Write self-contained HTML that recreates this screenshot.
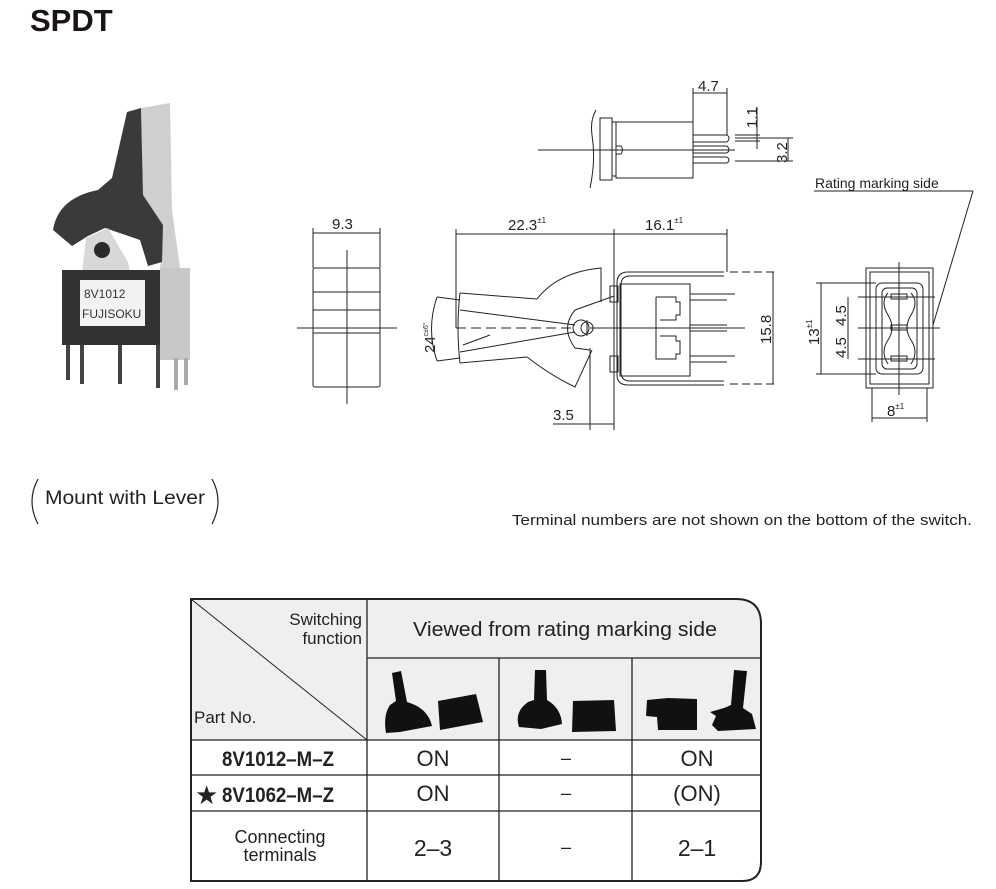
<!DOCTYPE html>
<html><head><meta charset="utf-8"><style>
html,body{margin:0;padding:0;background:#fff;}
svg{display:block;font-family:"Liberation Sans",Arial,sans-serif;}
</style></head><body>
<svg width="996" height="889" viewBox="0 0 996 889" xmlns="http://www.w3.org/2000/svg">
<rect width="996" height="889" fill="#fff"/>
<text x="30" y="31" font-size="31" font-weight="bold" fill="#1a1414">SPDT</text>

<!-- Photo -->
<g>
<path d="M141,108 L170,103 L172,210 L180,268 L160,270 L163,225 L143,195 Z" fill="#cfcfcf"/>
<path d="M127,112 L141,108 L143,195 L163,225 L162,262 L148,266 L140,240 L105,228 L88,236 L72,246 L53,230 Q58,198 98,190 L112,178 Z" fill="#3a3a3a"/>
<path d="M86,238 L108,228 L128,262 L130,272 L82,272 Z" fill="#d8d8d8"/>
<circle cx="102" cy="250" r="8" fill="#2a2a2a"/>
<rect x="62" y="270" width="100" height="75" fill="#333"/>
<rect x="160" y="268" width="30" height="92" fill="#c8c8c8"/>
<rect x="80" y="280" width="65" height="46" fill="#f2f2f2"/>
<text x="84" y="298" font-size="12" fill="#333">8V1012</text>
<text x="82" y="318" font-size="12" fill="#333">FUJISOKU</text>
<g stroke="#444" stroke-width="4"><line x1="68" y1="345" x2="68" y2="380"/><line x1="82" y1="345" x2="82" y2="384"/><line x1="120" y1="345" x2="120" y2="384"/><line x1="158" y1="345" x2="158" y2="388"/></g>
<g stroke="#aaa" stroke-width="4"><line x1="176" y1="358" x2="176" y2="390"/><line x1="186" y1="358" x2="186" y2="385"/></g>
</g>

<g fill="none" stroke="#222" stroke-width="1">
<!-- front view 9.3 -->
<rect x="313" y="268" width="67" height="119" rx="2"/>
<line x1="313" y1="292" x2="380" y2="292"/><line x1="313" y1="310" x2="380" y2="310"/><line x1="313" y1="333" x2="380" y2="333"/>
<line x1="347" y1="250" x2="347" y2="404"/><line x1="297" y1="328" x2="397" y2="328"/>
<line x1="313" y1="228" x2="313" y2="268"/><line x1="380" y1="228" x2="380" y2="268"/>
<line x1="313" y1="233" x2="380" y2="233"/>

<!-- top view -->
<path d="M596,110 Q590,120 592,135 Q596,160 590,188"/>
<rect x="600" y="118" width="12" height="62"/>
<rect x="612" y="122" width="4" height="54"/>
<rect x="616" y="122" width="77" height="56"/>
<path d="M616,146 L621,146 Q624,150 621,154 L616,154"/>
<line x1="538" y1="150" x2="735" y2="150"/>
<path d="M693,135 L727,135 M693,142 L727,142 M693,146 L727,146 M693,153 L727,153 M693,157 L727,157 M693,163 L727,163"/>
<path d="M727,135 Q731,138 727,142 M727,146 Q731,150 727,153 M727,157 Q731,160 727,163"/>
<line x1="693" y1="88" x2="693" y2="122"/><line x1="727" y1="88" x2="727" y2="135"/>
<line x1="693" y1="93" x2="727" y2="93"/>
<line x1="735" y1="135" x2="760" y2="135"/><line x1="735" y1="141" x2="760" y2="141"/>
<line x1="757" y1="107" x2="757" y2="149"/>
<line x1="735" y1="138" x2="793" y2="138"/><line x1="735" y1="161" x2="793" y2="161"/>
<line x1="788" y1="138" x2="788" y2="161"/>

<!-- side view dims -->
<line x1="456" y1="229" x2="456" y2="328"/><line x1="614" y1="229" x2="614" y2="430"/><line x1="727" y1="229" x2="727" y2="272"/>
<line x1="456" y1="234" x2="727" y2="234"/>
<line x1="590" y1="348" x2="590" y2="430"/>
<line x1="553" y1="424" x2="614" y2="424"/>
<line x1="730" y1="272" x2="778" y2="272" stroke-dasharray="8,4"/><line x1="730" y1="384" x2="778" y2="384" stroke-dasharray="8,4"/>
<line x1="773" y1="272" x2="773" y2="384"/>
<line x1="590" y1="328" x2="745" y2="328"/>
<line x1="456" y1="328" x2="575" y2="328" stroke-dasharray="10,5"/>
<path d="M437,297 Q426,329 437,361"/>
<line x1="437" y1="297" x2="460" y2="300"/><line x1="437" y1="361" x2="460" y2="358"/>

<!-- lever -->
<path d="M460,293 L537,299 Q558,272 601,268 L601,302"/>
<path d="M460,293 Q456,328 460,363 L527,357"/>
<path d="M527,357 Q550,375 575,387 L592,350"/>
<line x1="460" y1="310" x2="575" y2="325"/><line x1="460" y1="352" x2="575" y2="332"/>
<line x1="463" y1="345" x2="490" y2="335"/>
<path d="M575,310 Q560,328 575,348 L590,350"/>
<path d="M575,310 L614,296"/>
<circle cx="581" cy="328" r="8"/><circle cx="587" cy="328" r="6"/>
<line x1="587" y1="320" x2="587" y2="336"/>
<!-- body -->
<path d="M724,272 L628,272 Q617,272 617,283 L617,375 Q617,385 628,385 L724,385"/>
<path d="M724,276 L630,276 Q621,276 621,285 L621,372 Q621,381 630,381 L724,381"/>
<rect x="610" y="286" width="8" height="16"/><rect x="610" y="356" width="8" height="16"/>
<rect x="620" y="284" width="70" height="92"/>
<path d="M656,297 L676,297 L676,302 L680,302 L680,315 L676,315 L676,320 L660,320 M660,336 L676,336 L676,341 L680,341 L680,354 L676,354 L676,359 L656,359 L656,297"/>
<line x1="690" y1="294" x2="735" y2="294"/><line x1="690" y1="300" x2="727" y2="300"/>
<line x1="690" y1="325" x2="727" y2="325"/><line x1="690" y1="331" x2="727" y2="331"/>
<line x1="690" y1="356" x2="735" y2="356"/><line x1="690" y1="362" x2="727" y2="362"/>

<!-- right view -->
<rect x="866" y="268" width="67" height="120"/>
<rect x="870" y="272" width="59" height="112"/>
<rect x="876" y="283" width="47" height="91" rx="6"/>
<rect x="882" y="288" width="35" height="81" rx="5"/>
<path d="M888,293 Q880,302 888,315 Q896,328 888,340 Q880,352 888,364"/>
<path d="M911,293 Q919,302 911,315 Q903,328 911,340 Q919,352 911,364"/>
<rect x="891" y="294" width="16" height="5"/><rect x="891" y="325" width="16" height="5"/><rect x="891" y="356" width="16" height="5"/>
<line x1="899" y1="262" x2="899" y2="395"/>
<line x1="858" y1="297" x2="935" y2="297"/><line x1="858" y1="328" x2="940" y2="328"/><line x1="858" y1="359" x2="935" y2="359"/>
<line x1="816" y1="283" x2="876" y2="283"/><line x1="816" y1="374" x2="876" y2="374"/>
<line x1="821" y1="283" x2="821" y2="374"/>
<line x1="848" y1="297" x2="848" y2="359"/>
<line x1="872" y1="388" x2="872" y2="422"/><line x1="927" y1="388" x2="927" y2="422"/>
<line x1="872" y1="418" x2="927" y2="418"/>
<line x1="814" y1="191" x2="973" y2="191"/><line x1="973" y1="191" x2="933" y2="325"/>
</g>

<g font-size="15" fill="#222">
<text x="332" y="229">9.3</text>
<text x="508" y="230">22.3<tspan font-size="8" dy="-7">±1</tspan></text>
<text x="645" y="230">16.1<tspan font-size="8" dy="-7">±1</tspan></text>
<text x="698" y="91">4.7</text>
<text x="553" y="420">3.5</text>
<text x="815" y="188" font-size="14">Rating marking side</text>
<text x="887" y="416">8<tspan font-size="8" dy="-7">±1</tspan></text>
<text transform="translate(757,128) rotate(-90)">1.1</text>
<text transform="translate(787,163) rotate(-90)">3.2</text>
<text transform="translate(771,344) rotate(-90)">15.8</text>
<text transform="translate(435,353) rotate(-90)">24<tspan font-size="7" dy="-7">c±6°</tspan></text>
<text transform="translate(819,345) rotate(-90)">13<tspan font-size="8" dy="-7">±1</tspan></text>
<text transform="translate(846,326) rotate(-90)">4.5</text>
<text transform="translate(846,358) rotate(-90)">4.5</text>
</g>

<!-- mount with lever -->
<text x="45" y="504" font-size="19" fill="#222" textLength="160" lengthAdjust="spacingAndGlyphs">Mount with Lever</text>
<path d="M38,479 Q26,501 38,524" fill="none" stroke="#222" stroke-width="1.2"/>
<path d="M212,479 Q224,501 212,524" fill="none" stroke="#222" stroke-width="1.2"/>
<text x="512" y="525" font-size="15" fill="#222" textLength="460" lengthAdjust="spacingAndGlyphs">Terminal numbers are not shown on the bottom of the switch.</text>

<!-- table -->
<path d="M191,599 L736,599 Q761,599 761,624 L761,658 L367,658 L367,740 L191,740 Z" fill="#efefef"/>
<rect x="367" y="658" width="394" height="82" fill="#efefef"/>
<g fill="none" stroke="#222" stroke-width="1.3">
<path d="M191,599 L736,599 Q761,599 761,624 L761,862 Q761,881 742,881 L191,881 Z" stroke-width="2"/>
<line x1="367" y1="599" x2="367" y2="881"/>
<line x1="367" y1="658" x2="761" y2="658"/>
<line x1="499" y1="658" x2="499" y2="881"/><line x1="632" y1="658" x2="632" y2="881"/>
<line x1="191" y1="740" x2="761" y2="740"/>
<line x1="191" y1="775" x2="761" y2="775"/>
<line x1="191" y1="811" x2="761" y2="811"/>
<line x1="191" y1="599" x2="367" y2="740" stroke-width="1"/>
</g>
<g fill="#111">
<!-- col1 -->
<path d="M392,673 L401,671 L407,702 Q428,708 432,726 L416,729 L400,732 L386,733 Q383,715 390,705 L396,701 Z"/>
<path d="M438,701 L476,694 L483,722 L440,730 Z"/>
<!-- col2 -->
<path d="M535,670 L546,670 L547,700 Q561,708 562,724 L541,729 L519,727 Q514,712 528,702 L534,700 Z"/>
<path d="M573,701 L614,700 L616,731 L572,732 Z"/>
<!-- col3 -->
<path d="M647,700 L668,698 L697,699 L697,730 L658,730 L657,717 L646,716 Z"/>
<path d="M734,670 L747,671 L743,708 L752,714 L756,729 L718,731 L712,725 L716,716 L710,712 L724,708 L731,705 Z"/>
</g>
<g font-size="16" fill="#222">
<text x="362" y="625" text-anchor="end" font-size="17">Switching</text>
<text x="362" y="644" text-anchor="end" font-size="17">function</text>
<text x="565" y="636" font-size="20" text-anchor="middle" textLength="304" lengthAdjust="spacingAndGlyphs">Viewed from rating marking side</text>
<text x="194" y="723" font-size="17">Part No.</text>
<text x="278" y="766" font-size="21" font-weight="bold" text-anchor="middle" textLength="112" lengthAdjust="spacingAndGlyphs">8V1012–M–Z</text>
<text x="195" y="804" font-size="26">★</text>
<text x="278" y="802" font-size="21" font-weight="bold" text-anchor="middle" textLength="112" lengthAdjust="spacingAndGlyphs">8V1062–M–Z</text>
<text x="433" y="766" font-size="22" text-anchor="middle">ON</text>
<text x="566" y="764" font-size="18" text-anchor="middle">–</text>
<text x="697" y="766" font-size="22" text-anchor="middle">ON</text>
<text x="433" y="801" font-size="22" text-anchor="middle">ON</text>
<text x="566" y="799" font-size="18" text-anchor="middle">–</text>
<text x="697" y="801" font-size="22" text-anchor="middle">(ON)</text>
<text x="280" y="843" font-size="18" text-anchor="middle">Connecting</text>
<text x="280" y="861" font-size="18" text-anchor="middle">terminals</text>
<text x="433" y="856" font-size="23" text-anchor="middle">2–3</text>
<text x="566" y="853" font-size="18" text-anchor="middle">–</text>
<text x="697" y="856" font-size="23" text-anchor="middle">2–1</text>
</g>
</svg>
</body></html>
